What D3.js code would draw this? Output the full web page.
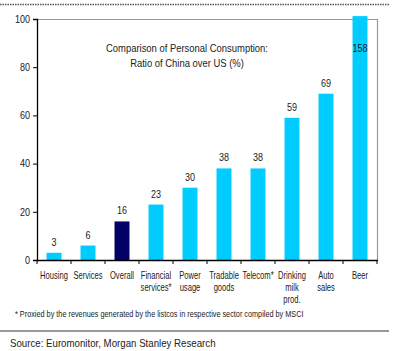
<!DOCTYPE html>
<html><head><meta charset="utf-8">
<script src="https://cdn.jsdelivr.net/npm/d3@7"></script>
<style>
body{margin:0;background:#fff;}
svg{display:block;font-family:"Liberation Sans Narrow","Arial Narrow","Liberation Sans",Arial,sans-serif;}
</style></head><body>
<svg id="c" width="398" height="351"></svg>
<script>
const categories = [["Housing"],["Services"],["Overall"],["Financial","services*"],["Power","usage"],["Tradable","goods"],["Telecom*"],["Drinking","milk","prod."],["Auto","sales"],["Beer"]];
const values = [3, 6, 16, 23, 30, 38, 38, 59, 69, 158];
const highlight = [false,false,true,false,false,false,false,false,false,false];
const yTicks = [0, 20, 40, 60, 80, 100];
const titleLines = ["Comparison of Personal Consumption:", "Ratio of China over US (%)"];
const footnote = "* Proxied by the revenues generated by the listcos in respective sector compiled by MSCI";
const source = "Source: Euromonitor, Morgan Stanley Research";

const svg = d3.select("#c");
const L = 37, R = 377, T = 19, B = 260;
const x = d3.scaleBand().domain(d3.range(categories.length)).range([L, R]).paddingInner(0.56).paddingOuter(0.28);
const y = d3.scaleLinear().domain([0, 100]).range([B, T]);
const capVal = 101.2;

function squeeze(sel, f){
  sel.each(function(){
    const n = this.getComputedTextLength();
    if(n>0){ this.setAttribute("textLength", (n*f).toFixed(2)); this.setAttribute("lengthAdjust","spacingAndGlyphs"); }
  });
}

// top dotted line
svg.append("line").attr("x1",0).attr("x2",389).attr("y1",4.5).attr("y2",4.5)
  .attr("stroke","#555").attr("stroke-width",1.5).attr("stroke-dasharray","1.5,1");

// frame top/right grey
svg.append("path").attr("d",`M${L},${T+0.5}H${R+0.5}V${B}`).attr("fill","none").attr("stroke","#999").attr("stroke-width",1.2);

// bars
svg.selectAll("rect.bar").data(values).join("rect")
  .attr("x",(d,i)=>x(i)).attr("width",x.bandwidth())
  .attr("y",d=>y(Math.min(d,capVal))).attr("height",d=>B-y(Math.min(d,capVal)))
  .attr("fill",(d,i)=>highlight[i]?"#000066":"#00CCFF");

// value labels
const vl = svg.selectAll("text.val").data(values).join("text")
  .attr("x",(d,i)=>x(i)+x.bandwidth()/2)
  .attr("y",d=> d>100 ? y(88)+4 : y(d)-7)
  .attr("text-anchor","middle").attr("font-size",11).attr("fill","#222")
  .text(d=>d);
squeeze(vl, 0.82);

// y axis
const ya = svg.append("g").attr("transform",`translate(${L},0)`)
  .call(d3.axisLeft(y).tickValues(yTicks).tickSize(4).tickPadding(3));
ya.select(".domain").attr("stroke","#000").attr("stroke-width",1.3);
ya.selectAll("text").attr("font-size",10.5).attr("fill","#222").attr("font-family","inherit");
squeeze(ya.selectAll("text"), 0.86);

// x axis
const xa = svg.append("g").attr("transform",`translate(0,${B})`);
xa.append("line").attr("x1",L).attr("x2",R+1).attr("y1",0.5).attr("y2",0.5).attr("stroke","#000").attr("stroke-width",1.3);
const bounds = d3.range(categories.length+1).map(i=> i<categories.length ? x(i)-x.step()*x.paddingInner()/2 : R);
xa.selectAll("line.t").data(bounds).join("line").attr("class","t")
  .attr("x1",d=>d).attr("x2",d=>d).attr("y1",0).attr("y2",4).attr("stroke","#000");
const cl = xa.selectAll("text.cat").data(categories).join("text")
  .attr("font-size",10).attr("fill","#222").attr("text-anchor","middle")
  .attr("transform",(d,i)=>`translate(${x(i)+x.bandwidth()/2},0) scale(0.76,1)`);
cl.selectAll("tspan").data(d=>d).join("tspan").attr("x",0).attr("y",(d,j)=>19+12*j).text(d=>d);

// title
const tt = svg.selectAll("text.title").data(titleLines).join("text")
  .attr("x",187).attr("y",(d,i)=>52+15*i).attr("text-anchor","middle")
  .attr("font-size",11.5).attr("fill","#222").text(d=>d);
squeeze(tt, 0.82);

// footnote
const fn = svg.append("text").attr("x",15).attr("y",317).attr("font-size",9).attr("fill","#222").text(footnote);
squeeze(fn, 0.81);
svg.append("line").attr("x1",0).attr("x2",389).attr("y1",331).attr("y2",331).attr("stroke","#333").attr("stroke-width",1.2);
const sc = svg.append("text").attr("x",10).attr("y",347).attr("font-size",11).attr("fill","#222").text(source);
squeeze(sc, 0.88);
</script></body></html>
